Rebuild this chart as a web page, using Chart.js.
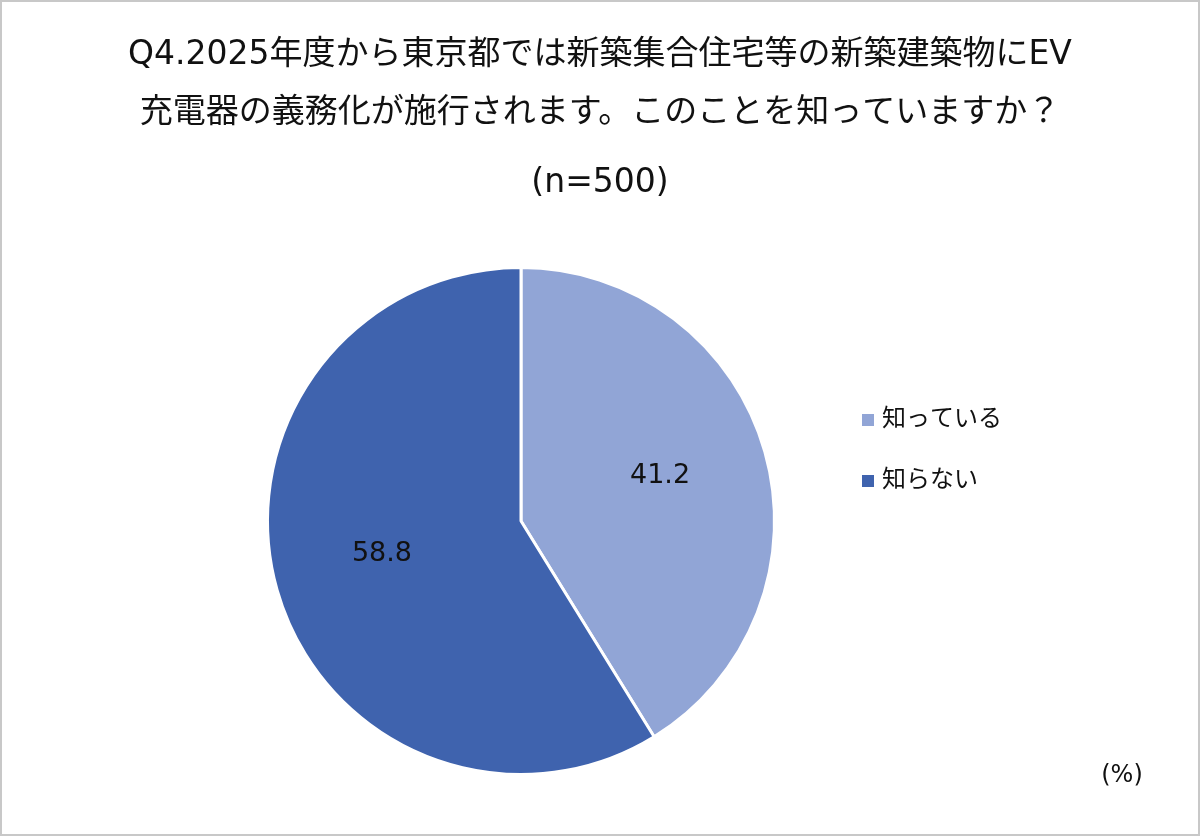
<!DOCTYPE html>
<html>
<head>
<meta charset="utf-8">
<script src="https://cdn.jsdelivr.net/npm/chart.js@4/dist/chart.umd.min.js"></script>
<style>
  html, body { margin: 0; padding: 0; background: #fff; }
  #wrap { position: relative; width: 1200px; height: 836px; box-sizing: border-box; border: 2px solid #c8c8c8; }
  canvas { position: absolute; left: -2px; top: -2px; }
</style>
</head>
<body>
<div id="wrap"><canvas id="chart" width="1200" height="836"></canvas></div>
<script>
const titleLines = [
  'Q4.2025年度から東京都では新築集合住宅等の新築建築物にEV',
  '充電器の義務化が施行されます。このことを知っていますか？',
  '(n=500)'
];
const categories = ['知っている', '知らない'];
const values     = [41.2, 58.8];
const colors     = ['#91A5D6', '#3F63AE'];
const unitLabel  = '(%)';

const FONT = '"DejaVu Sans", "Noto Sans CJK JP", sans-serif';

// title, legend, value labels and the unit note
const extras = {
  id: 'extras',
  afterDraw(chart) {
    const ctx = chart.ctx;
    ctx.save();
    ctx.fillStyle = '#111';
    ctx.textAlign = 'center';
    ctx.textBaseline = 'middle';
    ctx.font = '33px ' + FONT;
    const ys = [55, 113, 183];
    titleLines.forEach((t, i) => ctx.fillText(t, 600, ys[i]));

    // legend
    ctx.textAlign = 'left';
    ctx.font = '24px ' + FONT;
    categories.forEach((c, i) => {
      const y = 420 + i * 61;
      ctx.fillStyle = colors[i];
      ctx.fillRect(862, y - 6, 12, 12);
      ctx.fillStyle = '#111';
      ctx.fillText(c, 882, y);
    });

    // value labels
    ctx.textAlign = 'center';
    ctx.font = '27px ' + FONT;
    const meta = chart.getDatasetMeta(0);
    meta.data.forEach((arc, i) => {
      const mid = (arc.startAngle + arc.endAngle) / 2;
      const r = arc.outerRadius * 0.57;
      ctx.fillText(values[i].toFixed(1), arc.x + Math.cos(mid) * r, arc.y + Math.sin(mid) * r - 6);
    });

    ctx.font = '24px ' + FONT;
    ctx.fillText(unitLabel, 1122, 776);
    ctx.restore();
  }
};

new Chart(document.getElementById('chart'), {
  type: 'pie',
  data: {
    labels: categories,
    datasets: [{
      data: values,
      backgroundColor: colors,
      borderColor: '#fff',
      borderWidth: 3
    }]
  },
  options: {
    responsive: false,
    animation: false,
    layout: { padding: { top: 266, bottom: 60, left: 266, right: 424 } },
    plugins: {
      legend: { display: false },
      title: { display: false },
      tooltip: { enabled: false }
    }
  },
  plugins: [extras]
});
</script>
</body>
</html>
